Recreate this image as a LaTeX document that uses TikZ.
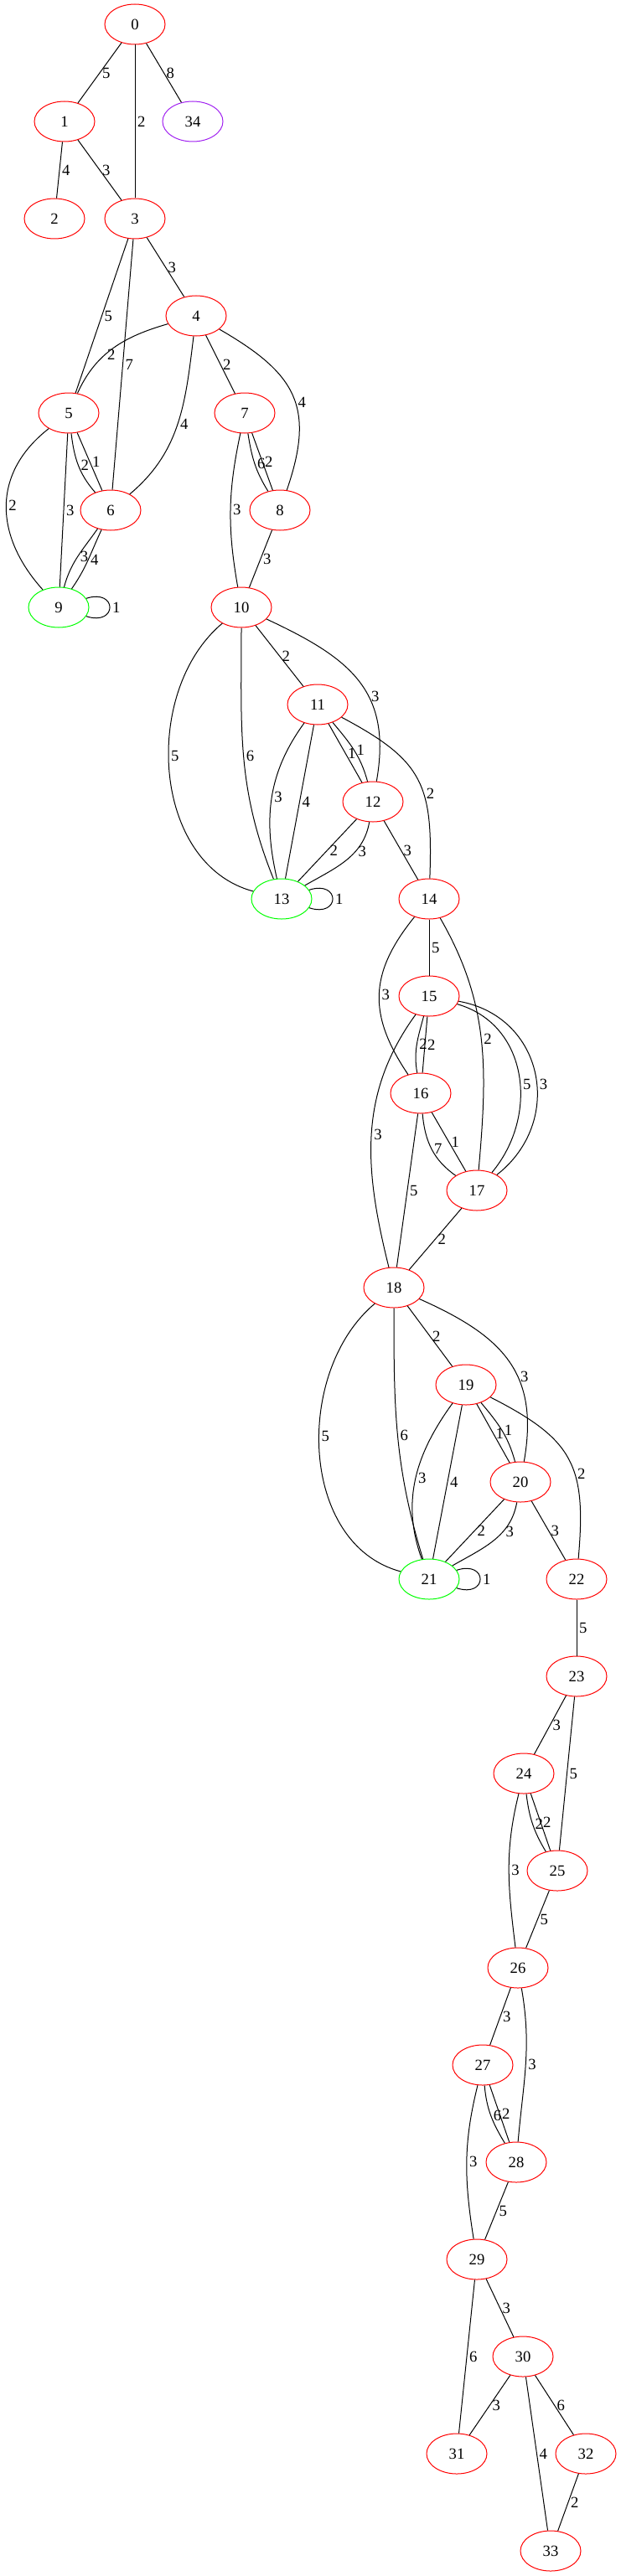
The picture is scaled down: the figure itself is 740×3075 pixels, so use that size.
\documentclass[tikz,border=0pt]{standalone}
\usepackage{fontspec}
\setmainfont{Liberation Serif}
\usetikzlibrary{positioning, shapes.geometric}
\definecolor{gvred}{HTML}{FF0000}
\definecolor{gvgreen}{HTML}{00FF00}
\definecolor{gvpurple}{HTML}{A020F0}

\begin{document}
\begin{tikzpicture}[x=0.75pt,y=-0.75pt,line width=0.75pt,
	st/.style={ellipse, draw=gvred, minimum width=54pt, minimum height=36pt, inner sep=0pt, font=\fontsize{14}{16}\selectfont},
	fin/.style={st, draw=gvgreen},
	lone/.style={st, draw=gvpurple},
	lbl/.style={font=\fontsize{14}{16}\selectfont, inner sep=0pt, right=2pt}]
	
	\useasboundingbox (0,0) rectangle (740,3075);
	
	\node (s0) [st] at (161,29) {0};
	\node (s1) [st] at (77,145) {1};
	\node (s34) [lone] at (230,145) {34};
	\node (s2) [st] at (65,261) {2};
	\node (s3) [st] at (161,261) {3};
	\node (s4) [st] at (234,377) {4};
	\node (s5) [st] at (82,493) {5};
	\node (s7) [st] at (292,493) {7};
	\node (s6) [st] at (132,609) {6};
	\node (s8) [st] at (334,609) {8};
	\node (s9) [fin] at (70,725) {9};
	\node (s10) [st] at (288,725) {10};
	\node (s11) [st] at (379,841) {11};
	\node (s12) [st] at (445,957) {12};
	\node (s13) [fin] at (336,1073) {13};
	\node (s14) [st] at (512,1073) {14};
	\node (s15) [st] at (512,1189) {15};
	\node (s16) [st] at (502,1305) {16};
	\node (s17) [st] at (569,1421) {17};
	\node (s18) [st] at (470,1537) {18};
	\node (s19) [st] at (556,1653) {19};
	\node (s20) [st] at (621,1769) {20};
	\node (s21) [fin] at (512,1885) {21};
	\node (s22) [st] at (688,1885) {22};
	\node (s23) [st] at (688,2001) {23};
	\node (s24) [st] at (625,2117) {24};
	\node (s25) [st] at (665,2233) {25};
	\node (s26) [st] at (618,2349) {26};
	\node (s27) [st] at (576,2465) {27};
	\node (s28) [st] at (616,2581) {28};
	\node (s29) [st] at (569,2697) {29};
	\node (s30) [st] at (624,2813) {30};
	\node (s31) [st] at (545,2929) {31};
	\node (s32) [st] at (699,2929) {32};
	\node (s33) [st] at (657,3045) {33};
	
	\path
	(s0) edge node [lbl] {5} (s1)
	(s0) edge node [lbl] {2} (s3)
	(s0) edge node [lbl] {8} (s34)
	(s1) edge node [lbl] {4} (s2)
	(s1) edge node [lbl] {3} (s3)
	(s3) edge node [lbl] {3} (s4)
	(s3) edge node [lbl] {5} (s5)
	(s3) edge node [lbl] {7} (s6)
	(s4) edge [out=196, in=66] node [lbl, pos=.6] {2} (s5)
	(s4) edge [out=263, in=40] node [lbl] {4} (s6)
	(s4) edge node [lbl] {2} (s7)
	(s4) edge [out=330, in=71, looseness=1.3] node [lbl, pos=.55] {4} (s8)
	(s5) edge [out=277, in=131] node [lbl] {2} (s6)
	(s5) edge node [lbl] {1} (s6)
	(s5) edge [out=218, in=132, looseness=1.15] node [lbl] {2} (s9)
	(s5) edge node [lbl] {3} (s9)
	(s6) edge [out=235, in=75] node [lbl] {3} (s9)
	(s6) edge [out=245, in=55] node [lbl] {4} (s9)
	(s7) edge [out=279, in=122] node [lbl] {6} (s8)
	(s7) edge node [lbl] {2} (s8)
	(s7) edge [out=258, in=100] node [lbl] {3} (s10)
	(s8) edge node [lbl] {3} (s10)
	(s9) edge [out=18, in=-18, looseness=4.75] node [lbl] {1} (s9)
	(s10) edge node [lbl] {2} (s11)
	(s10) edge [out=335, in=80, looseness=1.2] node [lbl, pos=.6] {3} (s12)
	(s10) edge [out=220, in=165] node [lbl, pos=.45] {5} (s13)
	(s10) edge [out=270, in=112] node [lbl] {6} (s13)
	(s11) edge node [lbl] {1} (s12)
	(s11) edge [out=310, in=105] node [lbl] {1} (s12)
	(s11) edge [out=234, in=103] node [lbl] {3} (s13)
	(s11) edge node [lbl] {4} (s13)
	(s11) edge [out=332, in=88, looseness=1.3] node [lbl, pos=.6] {2} (s14)
	(s12) edge node [lbl] {2} (s13)
	(s12) edge [out=260, in=30] node [lbl, pos=.35] {3} (s13)
	(s12) edge node [lbl] {3} (s14)
	(s13) edge [out=18, in=-18, looseness=4.75] node [lbl] {1} (s13)
	(s14) edge node [lbl] {5} (s15)
	(s14) edge [out=231, in=124, looseness=1.17] node [lbl] {3} (s16)
	(s14) edge [out=300, in=85] node [lbl] {2} (s17)
	(s15) edge [out=255, in=100] node [lbl] {2} (s16)
	(s15) edge node [lbl] {2} (s16)
	(s15) edge [out=344, in=50, looseness=1.1] node [lbl, pos=.55] {5} (s17)
	(s15) edge [out=350, in=38, looseness=1.25] node [lbl, pos=.55] {3} (s17)
	(s15) edge [out=234, in=104] node [lbl] {3} (s18)
	(s16) edge [out=275, in=145] node [lbl] {7} (s17)
	(s16) edge node [lbl] {1} (s17)
	(s16) edge node [lbl] {5} (s18)
	(s17) edge node [lbl] {2} (s18)
	(s18) edge node [lbl] {2} (s19)
	(s18) edge [out=336, in=80, looseness=1.2] node [lbl, pos=.6] {3} (s20)
	(s18) edge [out=220, in=165] node [lbl, pos=.45] {5} (s21)
	(s18) edge [out=270, in=107] node [lbl] {6} (s21)
	(s19) edge node [lbl] {1} (s20)
	(s19) edge [out=310, in=105] node [lbl] {1} (s20)
	(s19) edge [out=234, in=110] node [lbl] {3} (s21)
	(s19) edge node [lbl] {4} (s21)
	(s19) edge [out=333, in=85, looseness=1.3] node [lbl, pos=.6] {2} (s22)
	(s20) edge node [lbl] {2} (s21)
	(s20) edge [out=260, in=30] node [lbl, pos=.35] {3} (s21)
	(s20) edge node [lbl] {3} (s22)
	(s21) edge [out=18, in=-18, looseness=4.75] node [lbl] {1} (s21)
	(s22) edge node [lbl] {5} (s23)
	(s23) edge node [lbl] {3} (s24)
	(s23) edge node [lbl] {5} (s25)
	(s24) edge [out=277, in=121] node [lbl] {2} (s25)
	(s24) edge node [lbl] {2} (s25)
	(s24) edge [out=256, in=97] node [lbl] {3} (s26)
	(s25) edge node [lbl] {5} (s26)
	(s26) edge node [lbl] {3} (s27)
	(s26) edge [out=280, in=85] node [lbl] {3} (s28)
	(s27) edge [out=275, in=121] node [lbl] {6} (s28)
	(s27) edge node [lbl] {2} (s28)
	(s27) edge [out=256, in=99] node [lbl] {3} (s29)
	(s28) edge node [lbl] {5} (s29)
	(s29) edge node [lbl] {3} (s30)
	(s29) edge node [lbl] {6} (s31)
	(s30) edge node [lbl] {3} (s31)
	(s30) edge node [lbl] {6} (s32)
	(s30) edge node [lbl] {4} (s33)
	(s32) edge node [lbl] {2} (s33);
	
\end{tikzpicture}
\end{document}
